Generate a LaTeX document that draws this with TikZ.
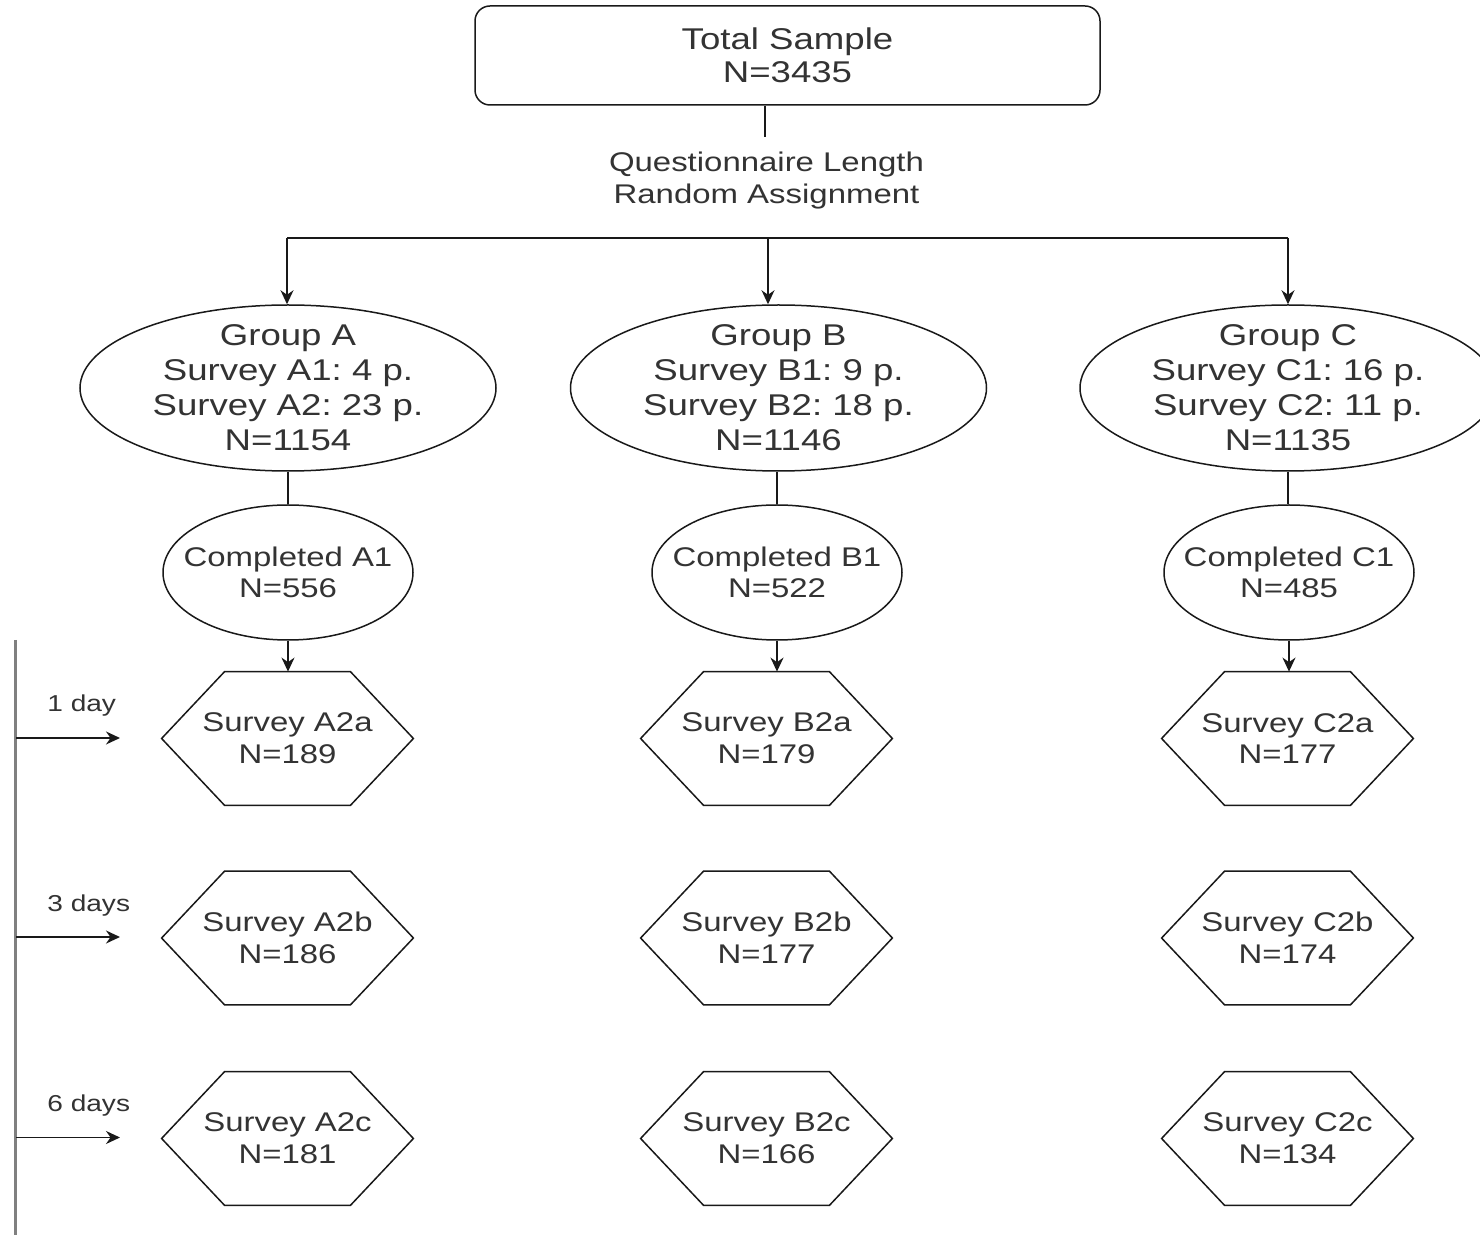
\documentclass[tikz,border=0pt]{standalone}
\usepackage{fontspec}
\setmainfont[FakeStretch=1.22]{Liberation Sans}
\usetikzlibrary{shapes.geometric,arrows.meta,calc}
\newcommand{\hexdraw}[1]{\draw[line] (#1.west) -- ($(#1.north west)+(63,0)$) -- ($(#1.north east)+(-63,0)$) -- (#1.east) -- ($(#1.south east)+(-63,0)$) -- ($(#1.south west)+(63,0)$) -- cycle;}
\frenchspacing
\begin{document}
\begin{tikzpicture}[x=0.5pt,y=-0.5pt,
  every node/.style={text=black!80, align=center, inner sep=0pt},
  bigfont/.style={font=\fontsize{15}{17.5}\selectfont},
  midfont/.style={font=\fontsize{13.5}{15.8}\selectfont},
  smallfont/.style={font=\fontsize{11.5}{13}\selectfont},
  line/.style={draw=black!90, line width=0.75pt},
  arr/.style={line, -{Stealth[length=7pt,width=6.5pt]}},
  groupell/.style={ellipse, line, minimum width=208pt, minimum height=83pt},
  doneell/.style={ellipse, line, minimum width=125pt, minimum height=67.5pt},
  hexbox/.style={midfont, minimum width=125.5pt, minimum height=66.5pt},
  timeline/.style={draw=black!50, line width=1.5pt},
]
\clip (0,0) rectangle (1480,1235);
\fill[white] (0,0) rectangle (1480,1235);

% top box
\node[line, rounded corners=7.5pt, minimum width=312.5pt, minimum height=49.5pt, font=\fontsize{15}{16.5}\selectfont] (total) at (787.5,55.5) {Total Sample\\N=3435};
\coordinate (split) at (765,137);
\draw[line] (total.south -| split) -- (split);
\node[midfont] (q) at (766.5,180.5) {Questionnaire Length\\Random Assignment};

% groups
\node[groupell, label={[bigfont]center:{Group A\\Survey A1: 4 p.\\Survey A2: 23 p.\\N=1154}}] (gA) at (288,388) {};
\node[groupell, label={[bigfont]center:{Group B\\Survey B1: 9 p.\\Survey B2: 18 p.\\N=1146}}] (gB) at (778.5,388) {};
\node[groupell, label={[bigfont]center:{Group C\\Survey C1: 16 p.\\Survey C2: 11 p.\\N=1135}}] (gC) at (1288,388) {};

\coordinate (hl) at (287,238);
\coordinate (hm) at (768,238);
\coordinate (hr) at (1288,238);
\draw[line] (hl) -- (hr);
\draw[arr] (hl) -- (hl |- gA.north);
\draw[arr] (hm) -- (hm |- gB.north);
\draw[arr] (hr) -- (hr |- gC.north);

% completed
\node[doneell, label={[midfont]center:{Completed A1\\N=556}}] (dA) at (288,572.5) {};
\node[doneell, label={[midfont]center:{Completed B1\\N=522}}] (dB) at (777,572.5) {};
\node[doneell, label={[midfont]center:{Completed C1\\N=485}}] (dC) at (1289,572.5) {};
\draw[line] (gA.south) -- (gA.south |- dA.north);
\draw[line] (dB.north |- gB.south) -- (dB.north);
\draw[line] (gC.south) -- (gC.south |- dC.north);

% hexagons
\node[hexbox] (hA1) at (287.5,738.5) {Survey A2a\\N=189};
\node[hexbox] (hA2) at (287.5,938) {Survey A2b\\N=186};
\node[hexbox] (hA3) at (287.5,1138.5) {Survey A2c\\N=181};
\node[hexbox] (hB1) at (766.5,738.5) {Survey B2a\\N=179};
\node[hexbox] (hB2) at (766.5,938) {Survey B2b\\N=177};
\node[hexbox] (hB3) at (766.5,1138.5) {Survey B2c\\N=166};
\node[hexbox] (hC1) at (1287.5,738.5) {Survey C2a\\N=177};
\node[hexbox] (hC2) at (1287.5,938) {Survey C2b\\N=174};
\node[hexbox] (hC3) at (1287.5,1138.5) {Survey C2c\\N=134};
\foreach \h in {hA1,hA2,hA3,hB1,hB2,hB3,hC1,hC2,hC3} {\hexdraw{\h}}

\draw[arr] (dA.south) -- (dA.south |- hA1.north);
\draw[arr] (dB.south) -- (dB.south |- hB1.north);
\draw[arr] (dC.south) -- (dC.south |- hC1.north);

% timeline
\coordinate (tt) at (15,640);
\coordinate (tb) at (15,1240);
\draw[timeline] (tt) -- (tb);
\coordinate (s1) at (16,738);
\coordinate (e1) at (120,738);
\coordinate (s2) at (16,937);
\coordinate (e2) at (120,937);
\coordinate (s3) at (16,1137.5);
\coordinate (e3) at (120,1137.5);
\draw[arr] (s1) -- (e1);
\draw[arr] (s2) -- (e2);
\draw[arr] (s3) -- (e3);
\node[smallfont, anchor=west] (l1) at (47,706) {1 day};
\node[smallfont, anchor=west] (l2) at (47,906) {3 days};
\node[smallfont, anchor=west] (l3) at (47,1106) {6 days};
\end{tikzpicture}
\end{document}
